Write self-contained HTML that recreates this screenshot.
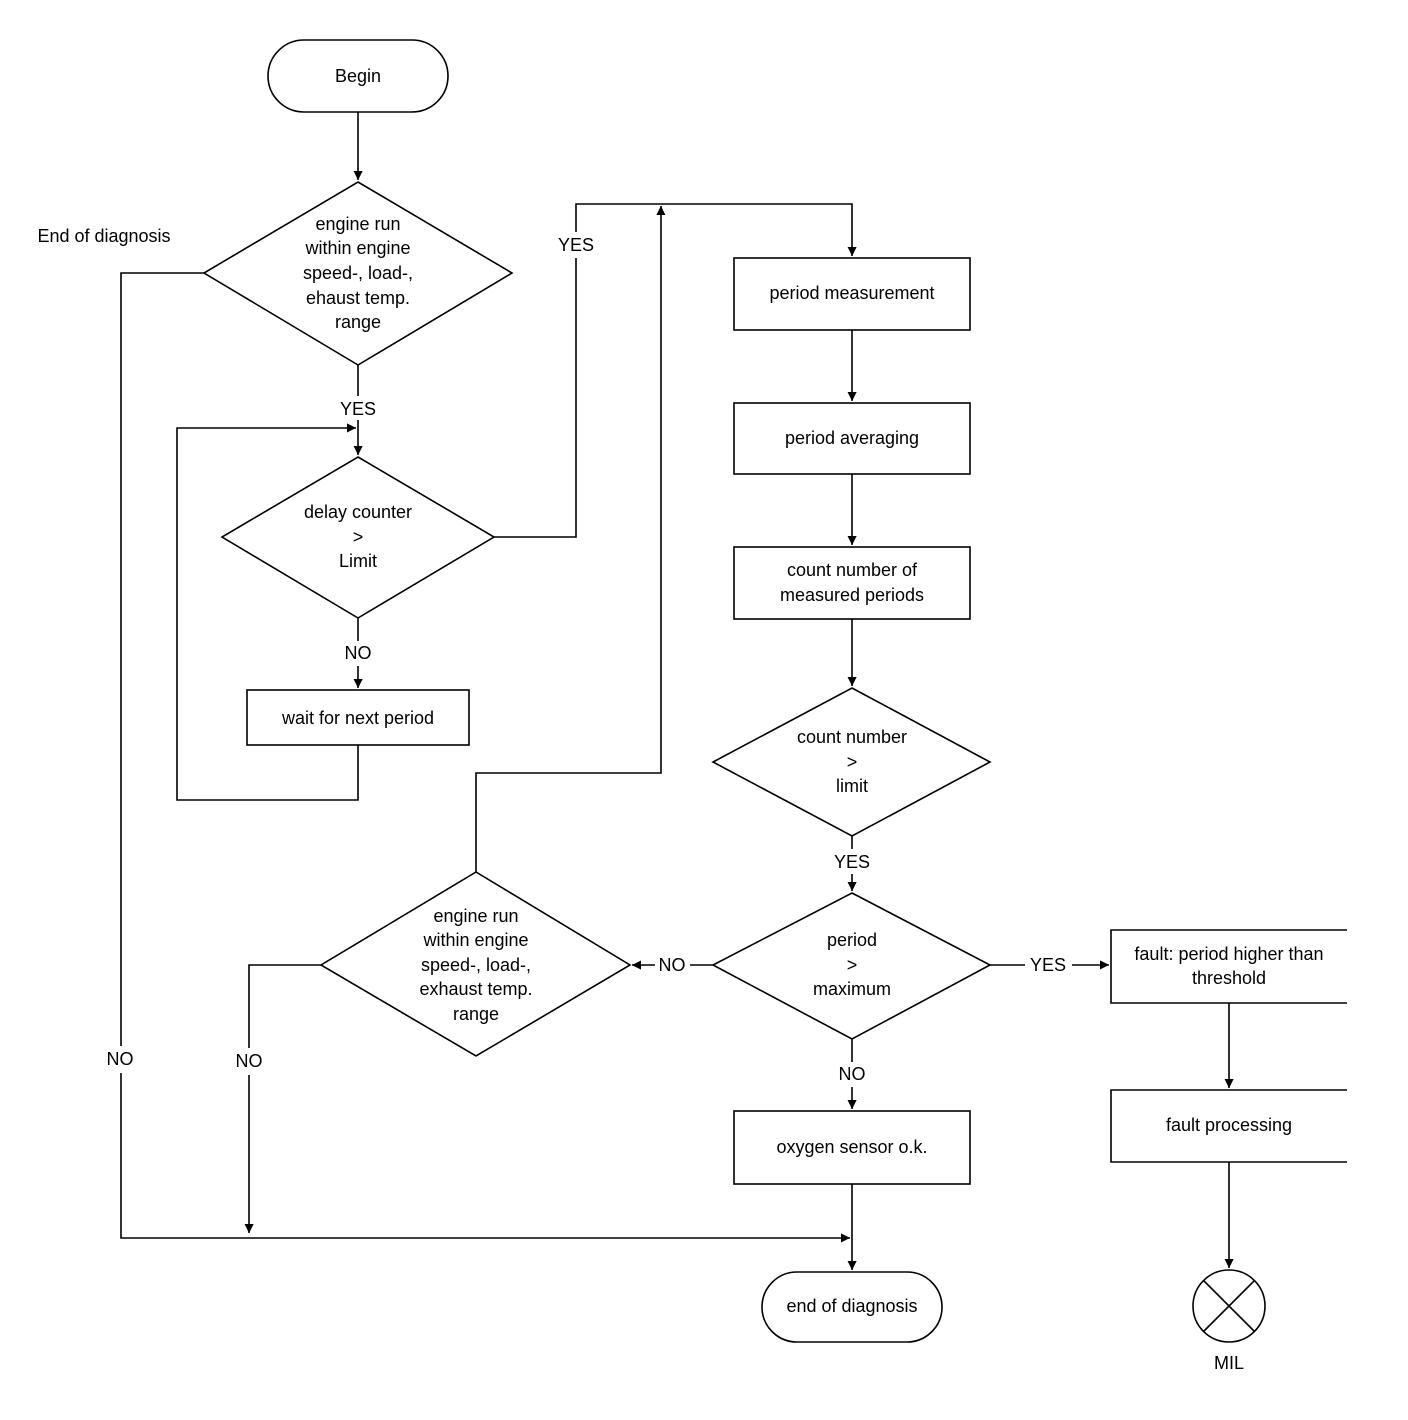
<!DOCTYPE html>
<html><head><meta charset="utf-8"><style>
html,body{margin:0;padding:0;background:#fff;}
svg{display:block;}
text{font-family:"Liberation Sans",Arial,sans-serif;font-size:18px;fill:#000;text-anchor:middle;dominant-baseline:central;}
</style></head><body>
<svg width="1408" height="1420" viewBox="0 0 1408 1420" xmlns="http://www.w3.org/2000/svg">
<defs>
<marker id="a" markerWidth="10" markerHeight="10" refX="9" refY="5" orient="auto" markerUnits="userSpaceOnUse">
<path d="M0,0 L10,5 L0,10 Z" fill="#000" transform="scale(1.4) translate(-3.5,-1.5)"/>
</marker>
</defs>
<g fill="none" stroke="#000" stroke-width="1.6">
<!-- Begin -->
<rect x="268" y="40" width="180" height="72" rx="36"/>
<line x1="358" y1="112" x2="358" y2="180" marker-end="url(#a)"/>
<polygon points="358,182 512,273 358,365 204,273"/>
<line x1="358" y1="365" x2="358" y2="396"/>
<line x1="358" y1="420" x2="358" y2="455" marker-end="url(#a)"/>
<polyline points="358,745 358,800 177,800 177,428 356,428" marker-end="url(#a)"/>
<polygon points="358,457 494,537 358,618 222,537"/>
<line x1="358" y1="618" x2="358" y2="641"/>
<line x1="358" y1="666" x2="358" y2="688" marker-end="url(#a)"/>
<rect x="247" y="690" width="222" height="55"/>
<polyline points="494,537 576,537 576,258"/>
<polyline points="576,232 576,204 852,204 852,256" marker-end="url(#a)"/>
<polyline points="476,872 476,773 661,773 661,206" marker-end="url(#a)"/>
<rect x="734" y="258" width="236" height="72"/>
<line x1="852" y1="330" x2="852" y2="401" marker-end="url(#a)"/>
<rect x="734" y="403" width="236" height="71"/>
<line x1="852" y1="474" x2="852" y2="545" marker-end="url(#a)"/>
<rect x="734" y="547" width="236" height="72"/>
<line x1="852" y1="619" x2="852" y2="686" marker-end="url(#a)"/>
<polygon points="852,688 990,762 852,836 713,762"/>
<line x1="852" y1="836" x2="852" y2="849"/>
<line x1="852" y1="874" x2="852" y2="891" marker-end="url(#a)"/>
<polygon points="852,893 990,965 852,1039 713,965"/>
<line x1="713" y1="965" x2="690" y2="965"/>
<line x1="655" y1="965" x2="632" y2="965" marker-end="url(#a)"/>
<polygon points="476,872 630,965 476,1056 321,965"/>
<polyline points="321,965 249,965 249,1048"/>
<line x1="249" y1="1075" x2="249" y2="1233" marker-end="url(#a)"/>
<line x1="990" y1="965" x2="1025" y2="965"/>
<line x1="1072" y1="965" x2="1109" y2="965" marker-end="url(#a)"/>
<polyline points="1347,930 1111,930 1111,1003 1347,1003"/>
<line x1="1229" y1="1003" x2="1229" y2="1088" marker-end="url(#a)"/>
<polyline points="1347,1090 1111,1090 1111,1162 1347,1162"/>
<line x1="1229" y1="1162" x2="1229" y2="1268" marker-end="url(#a)"/>
<circle cx="1229" cy="1306" r="36"/>
<line x1="1204" y1="1281" x2="1254" y2="1331"/>
<line x1="1254" y1="1281" x2="1204" y2="1331"/>
<line x1="852" y1="1039" x2="852" y2="1062"/>
<line x1="852" y1="1087" x2="852" y2="1109" marker-end="url(#a)"/>
<rect x="734" y="1111" width="236" height="73"/>
<line x1="852" y1="1184" x2="852" y2="1270" marker-end="url(#a)"/>
<rect x="762" y="1272" width="180" height="70" rx="35"/>
<polyline points="204,273 121,273 121,1046"/>
<polyline points="121,1073 121,1238 850,1238" marker-end="url(#a)"/>
</g>
<text x="358" y="76">Begin</text>
<text x="104" y="236">End of diagnosis</text>
<text x="358" y="224">engine run</text>
<text x="358" y="248">within engine</text>
<text x="358" y="273">speed-, load-,</text>
<text x="358" y="298">ehaust temp.</text>
<text x="358" y="322">range</text>
<text x="358" y="409">YES</text>
<text x="358" y="512">delay counter</text>
<text x="358" y="537">&gt;</text>
<text x="358" y="561">Limit</text>
<text x="358" y="653">NO</text>
<text x="358" y="718">wait for next period</text>
<text x="576" y="245">YES</text>
<text x="852" y="293">period measurement</text>
<text x="852" y="438">period averaging</text>
<text x="852" y="570">count number of</text>
<text x="852" y="595">measured periods</text>
<text x="852" y="737">count number</text>
<text x="852" y="762">&gt;</text>
<text x="852" y="786">limit</text>
<text x="852" y="862">YES</text>
<text x="852" y="940">period</text>
<text x="852" y="965">&gt;</text>
<text x="852" y="989">maximum</text>
<text x="672" y="965">NO</text>
<text x="476" y="916">engine run</text>
<text x="476" y="940">within engine</text>
<text x="476" y="965">speed-, load-,</text>
<text x="476" y="989">exhaust temp.</text>
<text x="476" y="1014">range</text>
<text x="249" y="1061">NO</text>
<text x="120" y="1059">NO</text>
<text x="1048" y="965">YES</text>
<text x="1229" y="954">fault: period higher than</text>
<text x="1229" y="978">threshold</text>
<text x="1229" y="1125">fault processing</text>
<text x="1229" y="1363">MIL</text>
<text x="852" y="1074">NO</text>
<text x="852" y="1147">oxygen sensor o.k.</text>
<text x="852" y="1306">end of diagnosis</text>
</svg>
</body></html>
